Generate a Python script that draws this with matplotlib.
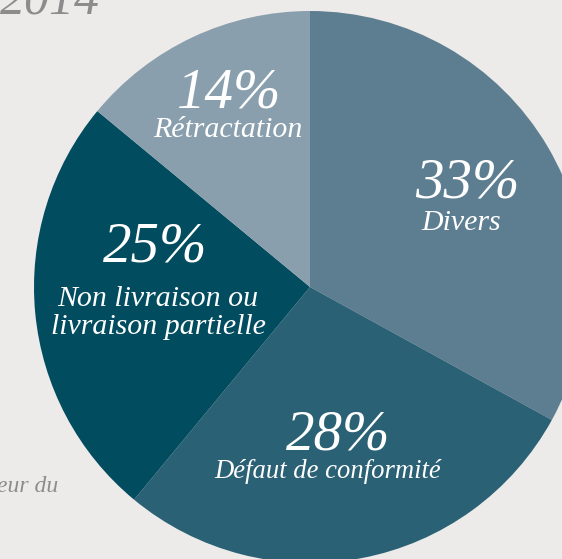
import matplotlib
matplotlib.use('Agg')
import matplotlib.pyplot as plt

# data
categories = ['Divers', 'Défaut de conformité',
              'Non livraison ou\nlivraison partielle', 'Rétractation']
shares = [33, 28, 25, 14]
colors = ['#5d7e90', '#2b6174', '#024c5f', '#8a9fad']

W, H = 562, 559
bg = '#edebea'

fig = plt.figure(figsize=(W / 100, H / 100), dpi=100)
fig.patch.set_facecolor(bg)
ax = fig.add_axes([0, 0, 1, 1])
ax.set_facecolor(bg)

# pie centre and radius in pixel units (y measured from the bottom)
cx, cy, r = 310, H - 287, 276
ax.pie(shares, colors=colors, startangle=90, counterclock=False,
       center=(cx, cy), radius=r,
       wedgeprops=dict(linewidth=0, antialiased=True))
ax.set_xlim(0, W)
ax.set_ylim(0, H)
ax.set_aspect('equal')
ax.set_axis_off()

serif = ['Liberation Serif', 'DejaVu Serif']

# label positions (pixel, from the top): percent line, label line, label size
spots = [(467, 184, 461, 223, 21.5),
         (338, 435, 328, 471, 19.2),
         (155, 248, 158, 313, 21.5),
         (229, 93, 228, 130, 21.5)]

for cat, val, (px, py, lx, ly, fs) in zip(categories, shares, spots):
    ax.text(px, H - py, f'{val}%', family=serif, style='italic',
            fontsize=41, color='white', ha='center', va='center')
    ax.text(lx, H - ly, cat, family=serif, style='italic',
            fontsize=fs, color='white', ha='center', va='center',
            linespacing=1.05)

# cut-off surrounding text
ax.text(100, H - 14, '2014', family=serif, style='italic', fontsize=36,
        color='#8c8c8c', ha='right', va='baseline')
ax.text(58, H - 492, 'eur du', family=serif, style='italic', fontsize=17,
        color='#8c8c8c', ha='right', va='baseline')

fig.savefig('out.png', dpi=100, facecolor=bg)
